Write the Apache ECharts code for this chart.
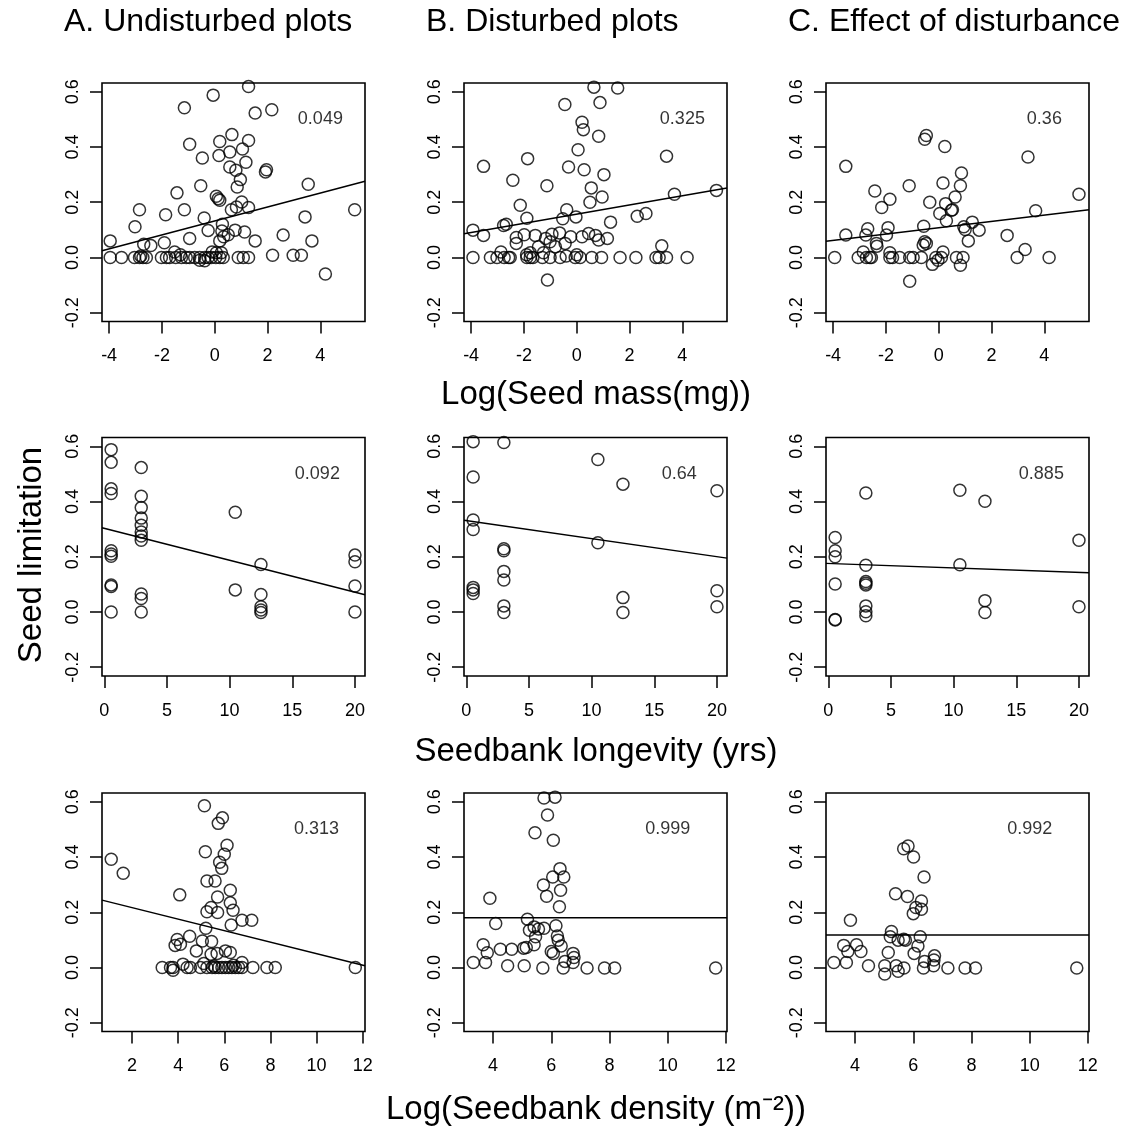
<!DOCTYPE html>
<html><head><meta charset="utf-8">
<script src="https://cdn.jsdelivr.net/npm/echarts@6/dist/echarts.min.js"></script>
<style>html,body{margin:0;padding:0;background:#fff}#c{width:1132px;height:1130px}</style>
</head><body><div id="c"></div>
<script>
// ---------- DATA ----------
const columnTitles = ['A. Undisturbed plots', 'B. Disturbed plots', 'C. Effect of disturbance'];
const rowTitles = ['Log(Seed mass(mg))', 'Seedbank longevity (yrs)', 'Log(Seedbank density (m\u207B\u00B2))'];
const yTitle = 'Seed limitation';

const yTicks = [-0.2, 0, 0.2, 0.4, 0.6];
const massTicks = [-4, -2, 0, 2, 4];
const longTicks = [0, 5, 10, 15, 20];
const densTicksA = [2, 4, 6, 8, 10, 12];
const densTicksBC = [4, 6, 8, 10, 12];

// p-value annotations per row (A, B, C) and their data positions
const massP = ['0.049', '0.325', '0.36'];
const longP = ['0.092', '0.64', '0.885'];
const densP = ['0.313', '0.999', '0.992'];
const annotAt = [[4, 0.5], [17, 0.5], [10, 0.5]];

// fitted lines: [y at left edge, y at right edge]
const massFit = [[0.024, 0.276], [0.086, 0.252], [0.059, 0.173]];
const longFit = [[0.305, 0.0625], [0.332, 0.195], [0.176, 0.142]];
const densFit = [[0.244, 0.006], [0.1805, 0.1805], [0.118, 0.118]];

const massUndisturbed = [[1.28,0.619],[-0.06,0.588],[-1.15,0.542],[1.53,0.523],[2.16,0.535],[0.65,0.445],[0.19,0.42],[1.28,0.424],[-0.95,0.41],[1.05,0.393],[0.57,0.382],[0.16,0.369],[-0.47,0.36],[1.18,0.345],[0.57,0.328],[0.8,0.316],[1.92,0.31],[1.96,0.318],[0.97,0.282],[0.85,0.255],[-0.53,0.26],[3.54,0.265],[-1.43,0.234],[0.06,0.222],[0.13,0.213],[0.19,0.207],[1.02,0.201],[1.28,0.181],[0.82,0.183],[0.63,0.173],[-2.85,0.173],[-1.86,0.155],[-1.15,0.173],[-0.4,0.143],[5.3,0.173],[3.42,0.147],[-3.02,0.111],[-0.25,0.098],[0.29,0.12],[0.27,0.096],[0.77,0.099],[1.13,0.092],[0.51,0.082],[0.34,0.075],[-0.95,0.069],[0.19,0.06],[2.59,0.081],[1.53,0.06],[3.68,0.06],[-3.96,0.06],[-2.69,0.048],[-2.42,0.043],[-1.91,0.053],[4.19,-0.06],[2.19,0.008],[2.97,0.008],[3.28,0.008],
[-3.96,0],[-3.53,0],[-3.04,0],[-2.85,0],[-2.72,0],[-2.59,0],[-2.02,0],[-1.83,0],[-1.71,0],[-1.48,0],[-1.26,0],[-1.08,0],[-0.95,0],[-0.76,0],[-0.57,0],[-0.38,0],[-0.25,0],[-0.13,0],[0.04,0],[0.19,0],[0.32,0],[0.89,0],[1.08,0],[1.28,0],
[-1.52,0.02],[0.06,0.017],[0.25,0.017],[-0.57,-0.01],[-0.38,-0.012],[-2.8,0.005],[-1.3,0.01],[-0.1,0.02]];

const massDisturbed = [[0.65,0.617],[1.55,0.614],[-0.45,0.554],[0.88,0.561],[0.2,0.49],[0.25,0.463],[0.83,0.439],[0.05,0.39],[3.4,0.367],[-3.53,0.33],[-1.86,0.358],[-0.31,0.328],[0.28,0.318],[1.03,0.3],[-2.42,0.28],[-1.13,0.26],[0.55,0.252],[0.96,0.219],[0.5,0.2],[5.29,0.243],[3.7,0.229],[-2.14,0.189],[-0.38,0.173],[-1.89,0.142],[-0.53,0.14],[-0.03,0.147],[2.29,0.149],[2.62,0.159],[1.28,0.128],[-2.77,0.116],[-2.67,0.12],[-3.93,0.099],[-3.53,0.08],[-2.29,0.072],[-1.99,0.082],[-1.57,0.08],[-1.18,0.069],[-0.94,0.084],[-0.65,0.089],[-0.44,0.051],[-0.23,0.075],[0.2,0.075],[0.45,0.087],[0.71,0.08],[0.83,0.063],[1.16,0.069],[-2.29,0.051],[-1.45,0.039],[-1.01,0.057],[-0.81,0.039],[-2.87,0.02],[-1.76,0.017],[-1.26,0.017],[3.22,0.042],[-1.11,-0.082],
[-3.93,0],[-3.27,0],[-3.02,0],[-2.75,0],[-2.58,0],[-2.52,0],[-1.89,0],[-1.76,0],[-1.66,0],[-1.01,0],[-0.63,0],[-0.06,0],[0.13,0],[0.57,0],[0.94,0],[1.64,0],[2.24,0],[3.0,0],[3.12,0],[3.4,0],[4.18,0],
[-1.9,0.01],[-0.4,0.005],[0.0,0.01],[-1.3,0.0]];

const massEffect = [[-0.47,0.442],[-0.53,0.428],[0.23,0.402],[3.38,0.364],[-3.52,0.33],[0.86,0.306],[-1.12,0.26],[0.16,0.27],[0.82,0.26],[-2.42,0.241],[-1.85,0.211],[0.62,0.219],[-0.34,0.2],[0.26,0.195],[-2.16,0.181],[0.48,0.171],[0.52,0.173],[5.31,0.229],[0.04,0.159],[3.67,0.169],[0.29,0.133],[1.27,0.128],[0.95,0.111],[1.0,0.101],[1.53,0.099],[-0.57,0.113],[-1.92,0.108],[-2.69,0.104],[-3.52,0.081],[-2.76,0.081],[-1.98,0.081],[2.59,0.08],[1.12,0.06],[-2.36,0.051],[-2.34,0.041],[-0.53,0.057],[-0.47,0.051],[-0.59,0.045],[-2.86,0.02],[-1.85,0.017],[0.16,0.02],[3.27,0.029],[-1.1,-0.086],[-0.24,-0.025],[0.82,-0.028],[-0.03,-0.01],
[-3.94,0],[-3.05,0],[-2.74,0],[-2.61,0],[-2.55,0],[-1.85,0],[-1.75,0],[-1.48,0],[-1.1,0],[-0.97,0],[-0.66,0],[-0.11,0],[0.1,0],[0.67,0],[0.92,0],[2.97,0],[4.18,0]];

const longUndisturbed = [[0.55,0.588],[0.55,0.542],[0.55,0.446],[0.55,0.429],[0.55,0.222],[0.55,0.21],[0.55,0.202],[0.55,0.098],[0.55,0.092],[0.55,0],
[2.95,0.523],[2.95,0.419],[2.95,0.378],[2.95,0.34],[2.95,0.314],[2.95,0.29],[2.95,0.275],[2.95,0.26],[2.95,0.065],[2.95,0.049],[2.95,0],
[10.45,0.361],[10.45,0.08],
[12.5,0.172],[12.5,0.063],[12.5,0.019],[12.5,0.007],[12.5,-0.002],
[20,0.206],[20,0.182],[20,0.094],[20,0]];

const longDisturbed = [[0.55,0.617],[0.55,0.489],[0.55,0.333],[0.55,0.299],[0.55,0.089],[0.55,0.08],[0.55,0.067],
[3,0.614],[3,0.229],[3,0.222],[3,0.147],[3,0.116],[3,0.022],[3,-0.002],
[10.5,0.552],[10.5,0.251],
[12.5,0.463],[12.5,0.052],[12.5,-0.002],
[20,0.439],[20,0.077],[20,0.019]];

const longEffect = [[0.55,0.27],[0.55,0.222],[0.55,0.2],[0.55,0.101],[0.55,-0.027],[0.55,-0.029],
[3,0.431],[3,0.169],[3,0.11],[3,0.104],[3,0.098],[3,0.022],[3,0.001],[3,-0.014],
[10.5,0.441],[10.5,0.171],
[12.5,0.401],[12.5,0.041],[12.5,-0.002],
[20,0.26],[20,0.019]];

const densUndisturbed = [[1.1,0.392],[1.62,0.341],[4.07,0.263],[5.14,0.586],[5.92,0.542],[5.74,0.522],[6.12,0.443],[5.18,0.419],[6.0,0.41],[5.8,0.381],[5.89,0.359],[5.25,0.313],[5.6,0.313],[6.26,0.28],[5.71,0.255],[6.26,0.234],[5.43,0.217],[5.25,0.202],[5.71,0.199],[6.38,0.207],[6.77,0.171],[7.19,0.171],[6.3,0.154],[5.2,0.142],[3.96,0.101],[3.87,0.08],[4.1,0.084],[4.5,0.113],[5.05,0.096],[5.45,0.094],[4.79,0.06],[5.43,0.048],[5.69,0.051],[6.05,0.06],[6.26,0.054],[6.77,0.018],[4.21,0.012],[5.11,0.014],
[3.31,0],[3.67,0],[3.78,0],[4.39,0],[4.53,0],[4.97,0],[5.25,0],[5.47,0],[5.61,0],[5.76,0],[5.9,0],[6.05,0],[6.19,0],[6.33,0],[6.48,0],[6.62,0],[6.77,0],[7.24,0],[7.85,0],[8.21,0],[11.68,0],[3.78,-0.01],[5.55,0.005],[6.4,0.008]];

const densDisturbed = [[5.75,0.614],[6.13,0.617],[5.87,0.552],[5.44,0.488],[6.07,0.461],[6.3,0.358],[6.05,0.328],[6.43,0.328],[5.73,0.299],[6.32,0.28],[5.84,0.258],[3.89,0.251],[6.28,0.22],[4.09,0.159],[5.18,0.175],[5.25,0.135],[5.41,0.147],[5.56,0.139],[5.75,0.142],[6.16,0.151],[5.46,0.111],[6.21,0.114],[6.24,0.099],[6.34,0.078],[3.66,0.082],[4.25,0.066],[4.64,0.066],[5.05,0.07],[5.14,0.072],[5.41,0.082],[3.8,0.053],[6.0,0.058],[6.07,0.051],[6.75,0.051],[6.78,0.036],[6.75,0.018],[6.47,0.022],[3.32,0.018],[3.74,0.018],[4.5,0.006],[5.07,0.006],[5.71,-0.002],[6.41,-0.002],[7.23,-0.002],[7.83,-0.002],[8.18,-0.002],[11.65,-0.002]];

const densEffect = [[5.82,0.44],[5.67,0.43],[6.01,0.4],[6.37,0.328],[5.39,0.267],[5.8,0.257],[6.28,0.241],[6.09,0.217],[6.28,0.211],[6.0,0.195],[3.84,0.171],[5.25,0.13],[5.21,0.111],[5.48,0.099],[5.67,0.102],[5.73,0.099],[6.24,0.111],[6.16,0.078],[3.61,0.08],[4.05,0.082],[3.75,0.058],[4.2,0.058],[5.14,0.054],[6.03,0.051],[6.73,0.042],[6.71,0.027],[6.39,0.022],[3.27,0.018],[3.7,0.018],[4.46,0.006],[5.02,0.006],[5.41,0.006],[5.68,-0.002],[6.35,-0.002],[5.02,-0.024],[5.48,-0.014],[6.7,0.006],[7.19,-0.002],[7.78,-0.002],[8.14,-0.002],[11.62,-0.002]];

// axis ranges
const yRange = [-0.232, 0.632];
const massRange = [-4.27, 5.69];
const longRange = [-0.18, 20.8];
const densRangeA = [0.7, 12.1];
const densRangeBC = [3.0, 12.04];

// ---------- LAYOUT ----------
const FONT = '"Liberation Sans", Arial, Helvetica, sans-serif';
const colLeft = [102, 464, 826];
const rowTop = [83, 437.5, 793];
const W = 263, H = 238.5;

const panels = [
  [ {d: massUndisturbed, fit: massFit[0], r: massRange, t: massTicks, p: massP[0], at: annotAt[0]},
    {d: massDisturbed,   fit: massFit[1], r: massRange, t: massTicks, p: massP[1], at: annotAt[0]},
    {d: massEffect,      fit: massFit[2], r: massRange, t: massTicks, p: massP[2], at: annotAt[0]} ],
  [ {d: longUndisturbed, fit: longFit[0], r: longRange, t: longTicks, p: longP[0], at: annotAt[1]},
    {d: longDisturbed,   fit: longFit[1], r: longRange, t: longTicks, p: longP[1], at: annotAt[1]},
    {d: longEffect,      fit: longFit[2], r: longRange, t: longTicks, p: longP[2], at: annotAt[1]} ],
  [ {d: densUndisturbed, fit: densFit[0], r: densRangeA,  t: densTicksA,  p: densP[0], at: annotAt[2]},
    {d: densDisturbed,   fit: densFit[1], r: densRangeBC, t: densTicksBC, p: densP[1], at: annotAt[2]},
    {d: densEffect,      fit: densFit[2], r: densRangeBC, t: densTicksBC, p: densP[2], at: annotAt[2]} ]
];

const grid = [], xAxis = [], yAxis = [], series = [];
const tickStyle = {color: '#000', width: 1.5};
panels.forEach((row, r) => row.forEach((pn, c) => {
  const i = grid.length;
  grid.push({left: colLeft[c], top: rowTop[r], width: W, height: H, show: true,
    borderColor: '#000', borderWidth: 1.6, backgroundColor: 'rgba(0,0,0,0)', outerBoundsMode: 'none'});
  xAxis.push({type: 'value', gridIndex: i, min: pn.r[0], max: pn.r[1], position: 'bottom',
    axisLine: {show: false, onZero: false}, splitLine: {show: false},
    axisTick: {show: true, length: 12, lineStyle: tickStyle, customValues: pn.t},
    axisLabel: {customValues: pn.t, fontSize: 18, color: '#000', margin: 26, fontFamily: FONT,
      formatter: v => String(v)}});
  yAxis.push({type: 'value', gridIndex: i, min: yRange[0], max: yRange[1], position: 'left',
    axisLine: {show: false, onZero: false}, splitLine: {show: false},
    axisTick: {show: true, length: 12, lineStyle: tickStyle, customValues: yTicks},
    axisLabel: {customValues: yTicks, fontSize: 18, color: '#000', margin: 20, rotate: 90, fontFamily: FONT,
      formatter: v => v.toFixed(1)}});
  series.push({type: 'scatter', xAxisIndex: i, yAxisIndex: i, data: pn.d, symbol: 'circle', symbolSize: 12,
    itemStyle: {color: 'rgba(0,0,0,0)', borderColor: '#000', borderWidth: 1.5}, silent: true, z: 3});
  series.push({type: 'line', xAxisIndex: i, yAxisIndex: i, data: [[pn.r[0], pn.fit[0]], [pn.r[1], pn.fit[1]]],
    symbol: 'none', lineStyle: {color: '#000', width: 1.5}, silent: true, z: 2});
  series.push({type: 'scatter', xAxisIndex: i, yAxisIndex: i, data: [pn.at], symbolSize: 1,
    itemStyle: {color: 'rgba(0,0,0,0)'}, silent: true,
    label: {show: true, position: 'inside', formatter: pn.p, fontSize: 18, color: '#000', fontFamily: FONT}});
}));

const graphic = [];
columnTitles.forEach((t, c) => graphic.push({type: 'text', x: colLeft[c] - 38, y: 22,
  style: {text: t, fill: '#000', font: '32px ' + FONT, textAlign: 'left', textVerticalAlign: 'middle'}}));
const rowTitleY = [395, 752, 1110];
rowTitles.forEach((t, r) => graphic.push({type: 'text', x: 596, y: rowTitleY[r],
  style: {text: t, fill: '#000', font: '33px ' + FONT, textAlign: 'center', textVerticalAlign: 'middle'}}));
graphic.push({type: 'text', x: 32, y: 555, rotation: Math.PI / 2,
  style: {text: yTitle, fill: '#000', font: '33px ' + FONT, textAlign: 'center', textVerticalAlign: 'middle'}});

const chart = echarts.init(document.getElementById('c'), null, {renderer: 'canvas'});
chart.setOption({animation: false, backgroundColor: '#fff', grid, xAxis, yAxis, series, graphic});
</script></body></html>
